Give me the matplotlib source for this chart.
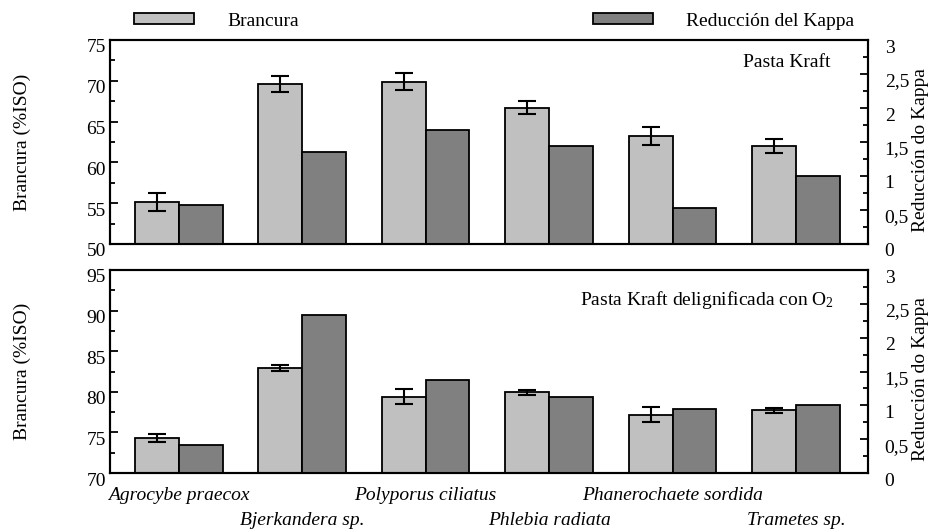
import matplotlib
matplotlib.use("Agg")
import matplotlib.pyplot as plt
import numpy as np
from matplotlib.transforms import ScaledTranslation

plt.rcParams['font.family'] = ['Liberation Serif', 'DejaVu Serif']
plt.rcParams['mathtext.fontset'] = 'custom'
plt.rcParams['mathtext.rm'] = 'Liberation Serif'
plt.rcParams['mathtext.it'] = 'Liberation Serif:italic'

species = ["Agrocybe praecox", "Bjerkandera sp.", "Polyporus ciliatus",
           "Phlebia radiata", "Phanerochaete sordida", "Trametes sp."]

# Pasta Kraft
kraft_brancura = [55.2, 69.6, 69.9, 66.7, 63.2, 62.0]
kraft_brancura_err = [1.1, 1.0, 1.0, 0.8, 1.1, 0.9]
kraft_kappa = [0.58, 1.35, 1.67, 1.44, 0.53, 1.00]

# Pasta Kraft deslignificada con O2
o2_brancura = [74.3, 82.9, 79.4, 79.95, 77.2, 77.7]
o2_brancura_err = [0.5, 0.37, 0.9, 0.3, 0.9, 0.3]
o2_kappa = [0.42, 2.34, 1.37, 1.13, 0.95, 1.01]

left_ticks_top = [50, 55, 60, 65, 70, 75]
left_ticks_bot = [70, 75, 80, 85, 90, 95]
right_ticks = [0, 0.5, 1, 1.5, 2, 2.5, 3]
right_labels = ["0", "0,5", "1", "1,5", "2", "2,5", "3"]

light = "#c0c0c0"
dark = "#808080"
FS = 14

fig = plt.figure(figsize=(9.38, 5.32), dpi=100)
W, H = 938, 532


def make_panel(top, bottom, bvals, berr, kvals, lticks, show_x):
    ax = fig.add_axes([110 / W, 1 - bottom / H, 758 / W, (bottom - top) / H])
    x = np.arange(len(species))
    bw = 0.356
    b1 = ax.bar(x - bw / 2, bvals, bw, color=light, edgecolor="black", linewidth=1.3, zorder=2)
    ax.errorbar(x - bw / 2, bvals, yerr=berr, fmt="none", ecolor="black",
                elinewidth=1.5, capsize=6.5, capthick=1.5, zorder=3)
    ax.set_ylim(lticks[0], lticks[-1])
    ax.set_xlim(-0.555, 5.583)
    ax.set_yticks(lticks)
    ax.set_yticks(np.arange(lticks[0], lticks[-1] + 0.1, 2.5), minor=True)
    ax.tick_params(axis="y", which="major", direction="in", length=6, width=1.3,
                   labelsize=FS, pad=3, right=False)
    ax.tick_params(axis="y", which="minor", direction="in", length=3.5, width=1.3, right=False)
    ax.tick_params(axis="x", length=0)
    for s in ax.spines.values():
        s.set_linewidth(1.5)
    for lab in ax.get_yticklabels():
        lab.set_transform(lab.get_transform() + ScaledTranslation(0, -6 / 100, fig.dpi_scale_trans))

    ax2 = ax.twinx()
    b2 = ax2.bar(x + bw / 2, kvals, bw, color=dark, edgecolor="black", linewidth=1.3, zorder=2)
    ax2.set_ylim(0, 3)
    ax2.set_yticks(right_ticks)
    ax2.set_yticklabels(right_labels)
    ax2.set_yticks(np.arange(0, 3.01, 0.25), minor=True)
    ax2.tick_params(axis="y", which="major", direction="in", length=5.5, width=1.3,
                    labelsize=FS, pad=12)
    ax2.tick_params(axis="y", which="minor", direction="in", length=3.5, width=1.3)
    for s in ax2.spines.values():
        s.set_linewidth(1.5)
    for lab in ax2.get_yticklabels():
        lab.set_transform(lab.get_transform() + ScaledTranslation(0, -6 / 100, fig.dpi_scale_trans))

    ax.set_xticks(x)
    if show_x:
        ax.set_xticklabels(species, fontstyle="italic", fontsize=FS)
        ax.tick_params(axis="x", pad=10)
        for i, lab in enumerate(ax.get_xticklabels()):
            if i % 2 == 1:
                lab.set_transform(lab.get_transform() + ScaledTranslation(0, -25 / 100, fig.dpi_scale_trans))
    else:
        ax.set_xticklabels([])

    ymid = (top + bottom) / 2
    fig.text(22 / W, 1 - ymid / H, "Brancura (%ISO)", rotation=90, ha="center", va="center", fontsize=FS)
    fig.text(920 / W, 1 - (ymid + 8) / H, "Reducción do Kappa", rotation=90, ha="center", va="center", fontsize=FS)
    return ax, ax2, b1, b2


axA, axA2, h1, h2 = make_panel(40, 244, kraft_brancura, kraft_brancura_err, kraft_kappa,
                               left_ticks_top, False)
axA.text(0.95, 0.892, "Pasta Kraft", transform=axA.transAxes, ha="right", va="center", fontsize=FS)

axB, axB2, _, _ = make_panel(270, 473, o2_brancura, o2_brancura_err, o2_kappa,
                             left_ticks_bot, True)
axB.text(0.955, 0.85, "Pasta Kraft delignificada con O$_2$", transform=axB.transAxes,
         ha="right", va="center", fontsize=FS)

leg = fig.legend([h1, h2], ["Brancura", "Reducción del Kappa"], ncol=2, frameon=False,
                 loc="center left", bbox_to_anchor=(134 / W, 1 - 21 / H), borderpad=0,
                 borderaxespad=0, handlelength=3.1, handleheight=0.55, handletextpad=1.7,
                 columnspacing=15.1, fontsize=FS)

fig.savefig("out.png", dpi=100)
